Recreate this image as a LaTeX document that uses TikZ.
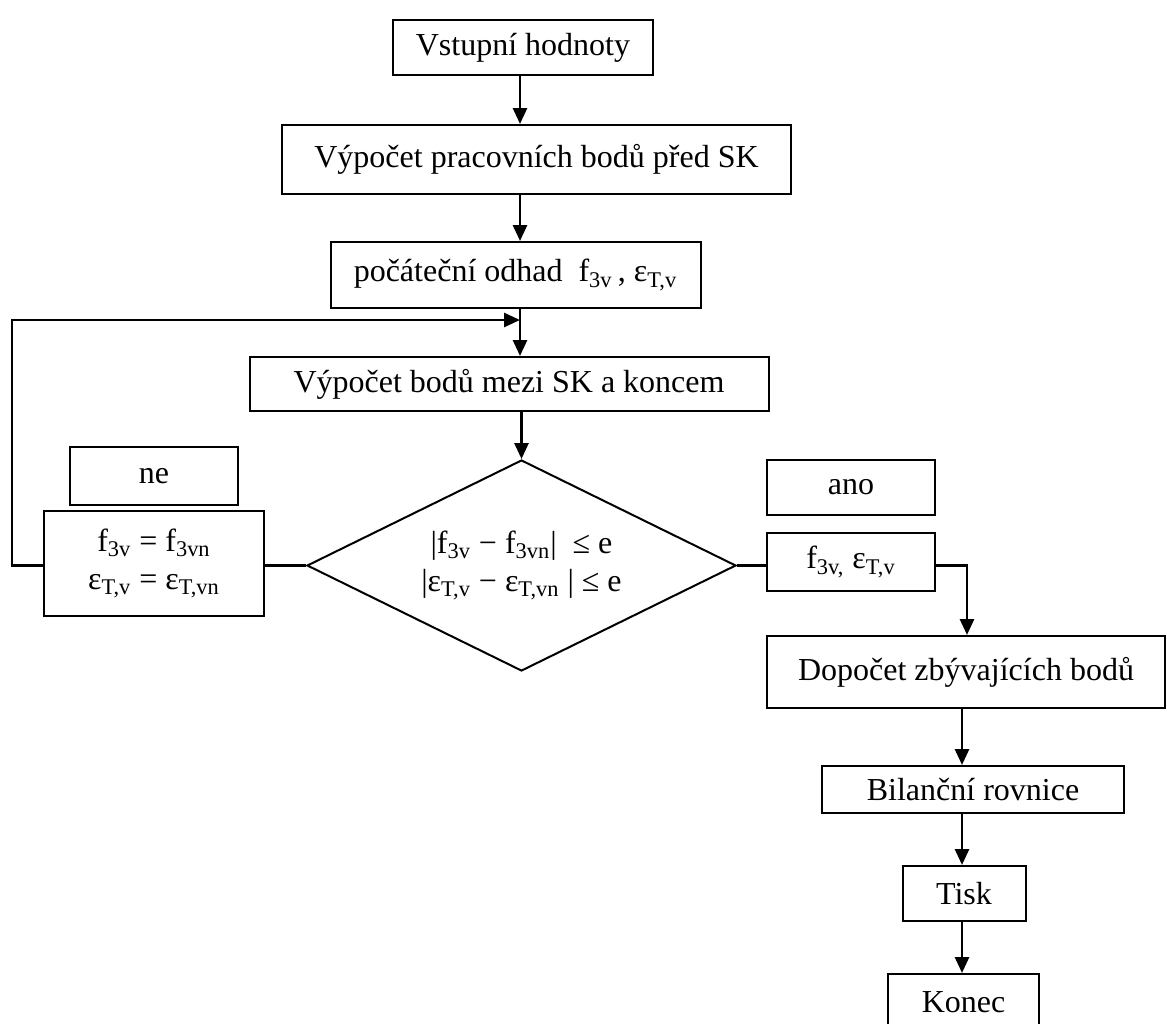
\documentclass[tikz,border=0pt]{standalone}
\usepackage{fontspec}
\setmainfont{Liberation Serif}
\usetikzlibrary{arrows.meta,shapes.geometric}

\newcommand{\sub}[1]{\textsubscript{#1}}

\begin{document}
\begin{tikzpicture}[x=0.5pt,y=-0.5pt,
    box/.style={draw, line width=1pt, inner sep=0pt, align=center,
      font=\fontsize{16}{19}\selectfont},
    flow/.style={line width=1.4pt, -{Triangle[length=8pt,width=7pt]}},
    wire/.style={line width=1.4pt}
    ]
    \clip (0,0) rectangle (1167,1023);
    \coordinate (mid) at (520,0);
    \coordinate (drop) at (967,0);
    \coordinate (right) at (962,0);
    \coordinate (back) at (12,320);
    \coordinate (join) at (520,320);
    % main column
    \node[box, minimum width=130pt, minimum height=27.5pt] (start) at (523,47.5) {Vstupní hodnoty};
    \node[box, minimum width=254.5pt, minimum height=34.5pt] (calc) at (536.5,159.5) {Výpočet pracovních bodů před SK};
    \node[box, minimum width=185pt, minimum height=33pt] (guess) at (515.5,275) {počáteční odhad\ \ f\sub{3v}\,, ε\sub{T,v}};
    \node[box, minimum width=259.5pt, minimum height=27pt] (between) at (509,384) {Výpočet bodů mezi SK a koncem};
    \node[box, diamond, aspect=2, minimum width=214.5pt, minimum height=105.5pt] (test) at (521.5,565.5)
      {|f\sub{3v} − f\sub{3vn}|\ \ ≤ e\\ |ε\sub{T,v} − ε\sub{T,vn} | ≤ e};
    % left branch
    \node[box, minimum width=84pt, minimum height=29pt] (no) at (154,476) {ne};
    \node[box, minimum width=110pt, minimum height=52.5pt] (upd) at (154,563.5)
      {f\sub{3v} = f\sub{3vn}\\ ε\sub{T,v} = ε\sub{T,vn}};
    % right branch
    \node[box, minimum width=84pt, minimum height=27.5pt] (yes) at (851,487.5) {ano};
    \node[box, minimum width=84pt, minimum height=29pt] (res) at (851,562) {f\sub{3v,} ε\sub{T,v}};
    \node[box, minimum width=199pt, minimum height=36pt] (rest) at (966,672) {Dopočet zbývajících bodů};
    \node[box, minimum width=151pt, minimum height=23.5pt] (bal) at (973,789.5) {Bilanční rovnice};
    \node[box, minimum width=61.5pt, minimum height=27.5pt] (print) at (964,893.5) {Tisk};
    \node[box, minimum width=75.5pt, minimum height=28pt] (end) at (963.5,1002) {Konec};
    % connectors
    \draw[flow] (start.south -| mid) -- (calc.north -| mid);
    \draw[flow] (calc.south -| mid) -- (guess.north -| mid);
    \draw[flow] (guess.south -| mid) -- (between.north -| mid);
    \draw[flow] (test.north |- between.south) -- (test.north);
    \draw[wire] (test.west) -- (test.west -| upd.east);
    \draw[flow] (test.west -| upd.west) -| (back) -- (join);
    \draw[wire] (test.east) -- (test.east -| res.west);
    \draw[flow] (test.east -| res.east) -| (rest.north -| drop);
    \draw[flow] (rest.south -| right) -- (bal.north -| right);
    \draw[flow] (bal.south -| right) -- (print.north -| right);
    \draw[flow] (print.south -| right) -- (end.north -| right);
\end{tikzpicture}
\end{document}
